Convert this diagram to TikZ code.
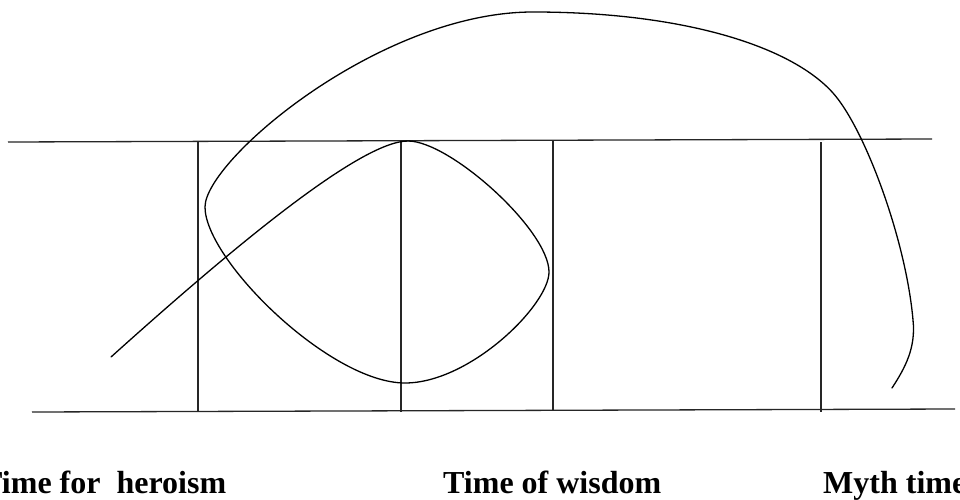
\documentclass[tikz,border=0pt]{standalone}
\usepackage{fontspec}
\setmainfont{Liberation Serif}
\begin{document}
\begin{tikzpicture}[x=1pt,y=-1pt,
  ln/.style={line width=1.3pt, black!85},
  crv/.style={line width=1.3pt, black, line cap=round, line join=round},
  lbl/.style={anchor=base west, inner sep=0pt, font=\fontsize{32}{36}\selectfont\bfseries}]
\useasboundingbox[fill=white] (0,0) rectangle (960,500);
% horizontal lines
\draw[ln] (8,142) -- (932,139);
\draw[ln] (32,412) -- (955,409);
% vertical lines
\draw[ln] (198,142) -- (198,412);
\draw[ln] (401,141) -- (401,412);
\draw[ln] (553,141) -- (553,411);
\draw[ln] (821,142) -- (821,412);
% curve
\draw[crv] (111,357)
  .. controls (230,250) and (360,141) .. (408,141)
  .. controls (450,141) and (549,230) .. (549,272)
  .. controls (549,305) and (470,383) .. (405,383)
  .. controls (330,383) and (205,260) .. (205,207)
  .. controls (205,160) and (380,12) .. (533,12)
  .. controls (680,12) and (790,45) .. (833,93)
  .. controls (865,129) and (906,240) .. (913,320)
  .. controls (916,348) and (905,368) .. (892,388);
% labels
\node[lbl] (t1) at (-19,493) {Time for\ \ heroism};
\node[lbl] (t2) at (443,493) {Time of wisdom};
\node[lbl] (t3) at (823,493) {Myth time};
\end{tikzpicture}
\end{document}
